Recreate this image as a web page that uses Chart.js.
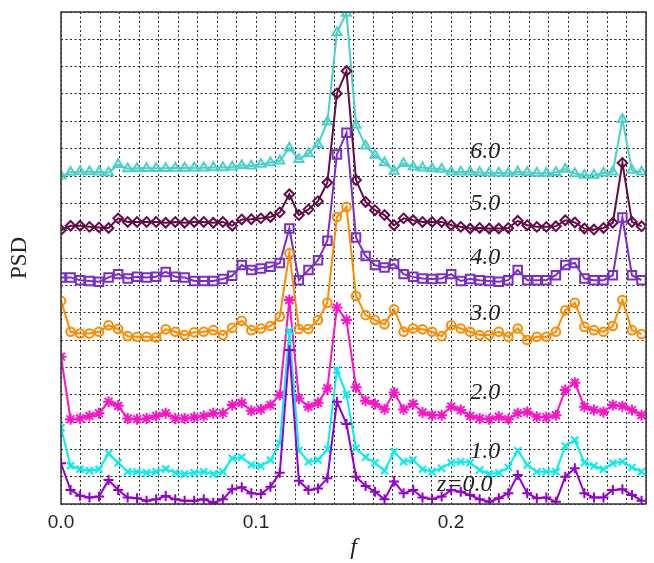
<!DOCTYPE html>
<html>
<head>
<meta charset="utf-8">
<title>PSD</title>
<script src="https://cdn.jsdelivr.net/npm/chart.js@4.4.1/dist/chart.umd.min.js"></script>
<style>
  html, body { margin: 0; padding: 0; background: #ffffff; }
  #graficoPSD { display: block; }
</style>
</head>
<body>
<canvas id="graficoPSD" width="654" height="563"></canvas>
<script>
// frequencias (eixo f)
let frequencias = [0.0000,0.0049,0.0098,0.0146,0.0195,0.0244,0.0293,0.0342,0.0390,0.0439,
  0.0488,0.0537,0.0586,0.0634,0.0683,0.0732,0.0781,0.0830,0.0878,0.0927,
  0.0976,0.1025,0.1074,0.1122,0.1171,0.1220,0.1269,0.1318,0.1366,0.1415,
  0.1464,0.1513,0.1562,0.1610,0.1659,0.1708,0.1757,0.1806,0.1854,0.1903,
  0.1952,0.2001,0.2050,0.2098,0.2147,0.2196,0.2245,0.2294,0.2342,0.2391,
  0.2440,0.2489,0.2538,0.2586,0.2635,0.2684,0.2733,0.2782,0.2830,0.2879,
  0.2928,0.2977];

// PSD de cada redshift (ja com o deslocamento vertical do grafico)
let psdZ0 = [1.49,0.51,0.30,0.24,0.27,0.88,0.51,0.24,0.21,0.12,
  0.17,0.29,0.17,0.12,0.12,0.17,0.05,0.17,0.54,0.61,
  0.39,0.37,0.63,1.14,5.63,0.85,0.51,0.57,0.94,3.74,
  2.93,1.00,0.66,0.45,0.17,0.82,0.39,0.51,0.24,0.18,
  0.27,0.51,0.45,0.33,0.17,0.08,0.21,0.39,1.06,0.39,
  0.21,0.24,0.08,1.00,1.31,0.39,0.24,0.24,0.51,0.54,
  0.33,0.12];
let psdZ1 = [2.79,1.40,1.27,1.22,1.27,1.85,1.51,1.18,1.18,1.14,
  1.18,1.28,1.14,1.10,1.14,1.18,1.10,1.18,1.67,1.71,
  1.43,1.39,1.61,2.22,6.34,1.95,1.55,1.61,2.00,4.90,
  4.01,2.04,1.71,1.51,1.22,1.91,1.55,1.61,1.27,1.18,
  1.31,1.51,1.55,1.51,1.24,1.10,1.14,1.34,1.95,1.43,
  1.18,1.18,1.18,2.12,2.34,1.51,1.39,1.27,1.49,1.55,
  1.34,1.18];
let psdZ2 = [5.39,3.10,3.13,3.22,3.32,3.74,3.59,3.13,3.10,3.13,
  3.22,3.32,3.13,3.13,3.17,3.22,3.32,3.32,3.62,3.70,
  3.41,3.46,3.62,3.99,7.46,3.86,3.56,3.70,4.23,7.19,
  6.73,4.27,3.78,3.66,3.47,4.08,3.46,3.66,3.35,3.25,
  3.25,3.56,3.44,3.22,3.13,3.10,3.19,3.10,3.32,3.37,
  3.19,3.17,3.25,4.17,4.44,3.56,3.44,3.37,3.62,3.58,
  3.44,3.25];
let psdZ3 = [7.43,6.30,6.24,6.24,6.30,6.54,6.40,6.14,6.12,6.12,
  6.09,6.39,6.30,6.18,6.28,6.30,6.36,6.18,6.45,6.70,
  6.36,6.42,6.51,6.85,9.17,6.40,6.40,6.73,7.36,10.50,
  10.87,7.61,6.91,6.73,6.58,7.12,6.30,6.42,6.39,6.30,
  6.14,6.54,6.42,6.30,6.18,6.18,6.30,6.12,6.42,6.00,
  6.12,6.12,6.30,7.09,7.36,6.48,6.36,6.30,6.51,7.46,
  6.36,6.22];
let psdZ4 = [8.29,8.29,8.19,8.16,8.13,8.29,8.41,8.25,8.31,8.29,
  8.31,8.49,8.31,8.29,8.16,8.16,8.16,8.23,8.35,8.74,
  8.56,8.62,8.68,8.82,10.08,8.19,8.56,8.92,9.63,12.79,
  13.58,9.75,9.07,8.74,8.65,8.78,8.41,8.31,8.25,8.23,
  8.25,8.41,8.16,8.23,8.19,8.16,8.13,8.19,8.56,8.19,
  8.19,8.19,8.37,8.74,8.82,8.25,8.19,8.19,8.37,10.48,
  8.37,8.19];
let psdZ5 = [10.02,10.18,10.18,10.14,10.12,10.10,10.45,10.32,10.32,10.32,
  10.32,10.29,10.32,10.29,10.32,10.32,10.29,10.32,10.18,10.41,
  10.42,10.45,10.50,10.67,11.33,10.57,10.78,11.08,11.76,15.02,
  15.84,11.85,11.05,10.75,10.57,10.20,10.45,10.38,10.32,10.32,
  10.32,10.20,10.14,10.08,10.10,10.08,10.08,10.10,10.36,10.20,
  10.14,10.14,10.16,10.38,10.30,10.08,10.04,10.10,10.29,12.48,
  10.32,10.16];
let psdZ6 = [12.00,12.14,12.16,12.16,12.15,12.12,12.42,12.27,12.28,12.28,
  12.28,12.28,12.29,12.29,12.30,12.30,12.31,12.31,12.33,12.39,
  12.37,12.43,12.49,12.55,13.03,12.61,12.82,13.16,13.98,17.25,
  17.96,13.86,13.10,12.76,12.49,12.18,12.46,12.33,12.30,12.27,
  12.25,12.15,12.15,12.15,12.13,12.11,12.11,12.10,12.15,12.13,
  12.10,12.10,12.13,12.25,12.09,12.03,12.03,12.11,12.15,14.07,
  12.21,12.15];

// rotulos de redshift escritos dentro do grafico
let rotulosZ = ["z=0.0", "1.0", "2.0", "3.0", "4.0", "5.0", "6.0"];
let rotulosF = [0.2071, 0.2175, 0.2175, 0.2175, 0.2175, 0.2175, 0.2175];
let rotulosY = [0.69, 1.92, 4.06, 6.95, 9.0, 11.0, 12.89];

let ticksX = [0.0, 0.1, 0.2];

function montarPontos(valores) {
  let pontos = [];
  for (var i = 0; i < frequencias.length; i++) {
    pontos.push({ x: frequencias[i], y: valores[i] });
  }
  return pontos;
}

function serie(valores, cor, estilo, raio) {
  return {
    data: montarPontos(valores),
    borderColor: cor,
    backgroundColor: cor,
    borderWidth: 2,
    pointStyle: estilo,
    pointRadius: raio,
    pointBorderColor: cor,
    pointBackgroundColor: 'rgba(0,0,0,0)',
    pointBorderWidth: 2,
    tension: 0,
    fill: false
  };
}

// escreve 6.0, 5.0 ... z=0.0
const pluginRotulos = {
  id: 'rotulos',
  afterDatasetsDraw(chart) {
    const ctx = chart.ctx;
    const sx = chart.scales.x;
    const sy = chart.scales.y;
    ctx.save();
    ctx.font = 'italic 24px "Liberation Serif", "DejaVu Serif", serif';
    ctx.fillStyle = '#222222';
    ctx.textAlign = 'center';
    ctx.textBaseline = 'middle';
    for (var i = 0; i < rotulosZ.length; i++) {
      ctx.fillText(rotulosZ[i], sx.getPixelForValue(rotulosF[i]), sy.getPixelForValue(rotulosY[i]));
    }
    ctx.restore();
  }
};

// moldura em volta da area do grafico
const pluginMoldura = {
  id: 'moldura',
  afterDraw(chart) {
    const a = chart.chartArea;
    const ctx = chart.ctx;
    ctx.save();
    ctx.strokeStyle = '#333333';
    ctx.lineWidth = 1.5;
    ctx.strokeRect(a.left, a.top, a.right - a.left, a.bottom - a.top);
    ctx.restore();
  }
};

function plotarGrafico() {
  let dados = {
    datasets: [
      serie(psdZ0, '#9400D3', 'cross', 5),
      serie(psdZ1, '#00F0F0', 'crossRot', 5),
      serie(psdZ2, '#FF12C8', 'star', 5.5),
      serie(psdZ3, '#FF8C00', 'circle', 4.3),
      serie(psdZ4, '#7A30C8', 'rect', 6),
      serie(psdZ5, '#650A48', 'rectRot', 4.8),
      serie(psdZ6, '#48D1CC', 'triangle', 5.2)
    ]
  };

  const config = {
    type: 'line',
    data: dados,
    plugins: [pluginRotulos, pluginMoldura],
    options: {
      responsive: false,
      animation: false,
      layout: { padding: { top: 12, right: 5, bottom: 0, left: 0 } },
      plugins: {
        legend: { display: false },
        tooltip: { enabled: false }
      },
      scales: {
        x: {
          type: 'linear',
          min: 0,
          max: 0.3,
          afterFit: function (escala) { escala.height = 59; },
          grid: { color: 'rgba(0,0,0,0.85)', lineWidth: 1, drawTicks: false },
          border: { display: false, dash: [2, 2.5] },
          ticks: {
            stepSize: 0.01,
            autoSkip: false,
            maxRotation: 0,
            padding: 7,
            color: '#222222',
            font: { family: '"Liberation Sans", Arial, sans-serif', size: 19 },
            callback: function (valor) {
              for (var k = 0; k < ticksX.length; k++) {
                if (Math.abs(valor - ticksX[k]) < 1e-6) return ticksX[k].toFixed(1);
              }
              return '';
            }
          },
          title: {
            display: true,
            text: 'f',
            color: '#222222',
            font: { family: '"Liberation Serif", serif', size: 24, style: 'italic' },
            padding: { top: 0, bottom: 1 }
          }
        },
        y: {
          min: 0,
          max: 18,
          afterFit: function (escala) { escala.width = 61; },
          grid: { color: 'rgba(0,0,0,0.85)', lineWidth: 1, drawTicks: false },
          border: { display: false, dash: [2, 2.5] },
          ticks: { stepSize: 1, display: false },
          title: {
            display: true,
            text: 'PSD',
            color: '#222222',
            font: { family: '"Liberation Serif", serif', size: 23 },
            padding: { top: 6, bottom: 0 }
          }
        }
      }
    }
  };

  let meuGrafico = new Chart(document.getElementById('graficoPSD'), config);
}

plotarGrafico();
</script>
</body>
</html>
